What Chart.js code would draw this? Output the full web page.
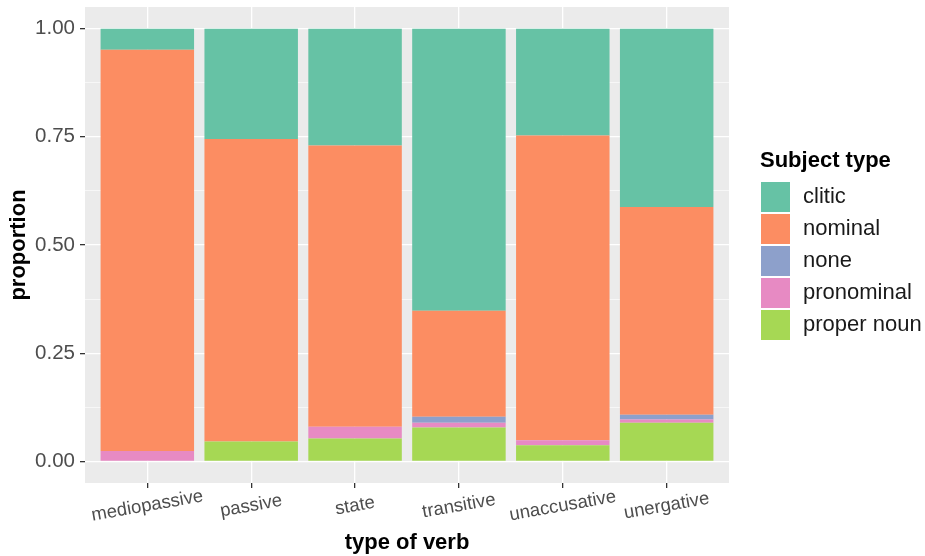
<!DOCTYPE html>
<html lang="en">

<head>
    <meta charset="UTF-8">
    <title>Subject type by type of verb</title>
    <script src="https://cdn.jsdelivr.net/npm/chart.js"></script>
    <style>
        body {
            margin: 0;
            background: #ffffff;
        }

        .wrap {
            width: 925px;
            height: 556px;
        }
    </style>
</head>

<body>
    <div class="wrap">
        <canvas id="chart" width="925" height="556"></canvas>
    </div>

    <script>
        // categories on the x axis
        const verbTypes = ['mediopassive', 'passive', 'state', 'transitive', 'unaccusative', 'unergative'];

        // proportions per verb type (same order as verbTypes)
        const clitic = [0.049, 0.255, 0.270, 0.652, 0.247, 0.412];
        const nominal = [0.927, 0.699, 0.650, 0.245, 0.704, 0.480];
        const none = [0.000, 0.000, 0.000, 0.014, 0.000, 0.011];
        const pronominal = [0.024, 0.000, 0.027, 0.011, 0.012, 0.008];
        const properNoun = [0.000, 0.046, 0.053, 0.078, 0.037, 0.089];

        const yTicks = [0, 0.25, 0.5, 0.75, 1];
        const yMinorTicks = [0.125, 0.375, 0.625, 0.875];

        const legendLabels = ['clitic', 'nominal', 'none', 'pronominal', 'proper noun'];
        const legendColors = ['#66C2A5', '#FC8D62', '#8DA0CB', '#E78AC3', '#A6D854'];

        const FONT = '"Liberation Sans", Arial, sans-serif';

        function toPoints(values) {
            return values.map((v, i) => ({ x: i + 1, y: v }));
        }

        // ggplot stacks the first level on top, so bottom layer goes first here
        const datasets = [
            { label: 'proper noun', data: toPoints(properNoun), backgroundColor: '#A6D854' },
            { label: 'pronominal', data: toPoints(pronominal), backgroundColor: '#E78AC3' },
            { label: 'none', data: toPoints(none), backgroundColor: '#8DA0CB' },
            { label: 'nominal', data: toPoints(nominal), backgroundColor: '#FC8D62' },
            { label: 'clitic', data: toPoints(clitic), backgroundColor: '#66C2A5' }
        ];

        // chart.js reserves room for half a tick label at each end; ggplot doesn't
        function noEdgePadding(scale) {
            scale.paddingTop = 0;
            scale.paddingBottom = 0;
            scale.paddingLeft = 0;
            scale.paddingRight = 0;
        }

        const panelPlugin = {
            id: 'panel',
            beforeDraw(chart) {
                const { ctx, chartArea } = chart;
                ctx.save();
                ctx.fillStyle = '#EBEBEB';
                ctx.fillRect(chartArea.left, chartArea.top, chartArea.right - chartArea.left, chartArea.bottom - chartArea.top);
                ctx.restore();
            },
            afterDraw(chart) {
                const { ctx, chartArea } = chart;
                const x = chart.scales.x;
                ctx.save();

                // rotated category labels, centred under each tick
                ctx.fillStyle = '#4D4D4D';
                ctx.font = '18.5px ' + FONT;
                ctx.textAlign = 'center';
                ctx.textBaseline = 'middle';
                verbTypes.forEach((name, i) => {
                    ctx.save();
                    ctx.translate(x.getPixelForValue(i + 1), chartArea.bottom + 23);
                    ctx.rotate(-10 * Math.PI / 180);
                    ctx.fillText(name, 0, 0);
                    ctx.restore();
                });

                // axis titles
                ctx.fillStyle = '#000000';
                ctx.font = 'bold 22px ' + FONT;
                ctx.fillText('type of verb', (chartArea.left + chartArea.right) / 2, 543);
                ctx.save();
                ctx.translate(19, (chartArea.top + chartArea.bottom) / 2);
                ctx.rotate(-Math.PI / 2);
                ctx.fillText('proportion', 0, 0);
                ctx.restore();

                // legend
                ctx.textAlign = 'left';
                ctx.textBaseline = 'alphabetic';
                ctx.fillText('Subject type', 760, 167);
                ctx.font = '22px ' + FONT;
                ctx.textBaseline = 'middle';
                legendLabels.forEach((label, i) => {
                    const top = 181 + i * 32;
                    ctx.fillStyle = legendColors[i];
                    ctx.fillRect(761, top + 1, 29, 30);
                    ctx.fillStyle = '#1A1A1A';
                    ctx.fillText(label, 803, top + 16);
                });
                ctx.restore();
            }
        };

        new Chart(document.getElementById('chart'), {
            type: 'bar',
            data: { datasets: datasets },
            options: {
                responsive: false,
                animation: false,
                layout: { padding: { top: 7, right: 196, bottom: 0, left: 0 } },
                plugins: {
                    legend: { display: false },
                    tooltip: { enabled: false }
                },
                datasets: {
                    bar: { barPercentage: 0.9, categoryPercentage: 1 }
                },
                scales: {
                    x: {
                        type: 'linear',
                        stacked: true,
                        offset: false,
                        min: 0.4,
                        max: 6.6,
                        afterBuildTicks: (scale) => {
                            scale.ticks = verbTypes.map((v, i) => ({ value: i + 1 }));
                        },
                        afterFit: (scale) => {
                            scale.height = 73;
                            noEdgePadding(scale);
                        },
                        ticks: { display: false },
                        border: { display: false },
                        grid: {
                            offset: false,
                            color: '#FFFFFF',
                            lineWidth: 1.3,
                            tickColor: '#333333',
                            tickLength: 5,
                            tickWidth: 1.3
                        }
                    },
                    y: {
                        stacked: true,
                        min: -0.05,
                        max: 1.05,
                        afterBuildTicks: (scale) => {
                            scale.ticks = yTicks.concat(yMinorTicks).sort((a, b) => a - b).map(v => ({ value: v }));
                        },
                        afterFit: (scale) => {
                            scale.width = 85;
                            noEdgePadding(scale);
                        },
                        border: { display: false },
                        ticks: {
                            color: '#4D4D4D',
                            padding: 5,
                            font: { family: FONT, size: 20.5 },
                            callback: (v) => yTicks.includes(v) ? v.toFixed(2) : ''
                        },
                        grid: {
                            color: '#FFFFFF',
                            lineWidth: (c) => yTicks.includes(c.tick.value) ? 1.3 : 0.6,
                            tickColor: (c) => yTicks.includes(c.tick.value) ? '#333333' : 'rgba(0,0,0,0)',
                            tickLength: 5,
                            tickWidth: 1.3
                        }
                    }
                }
            },
            plugins: [panelPlugin]
        });
    </script>
</body>

</html>
